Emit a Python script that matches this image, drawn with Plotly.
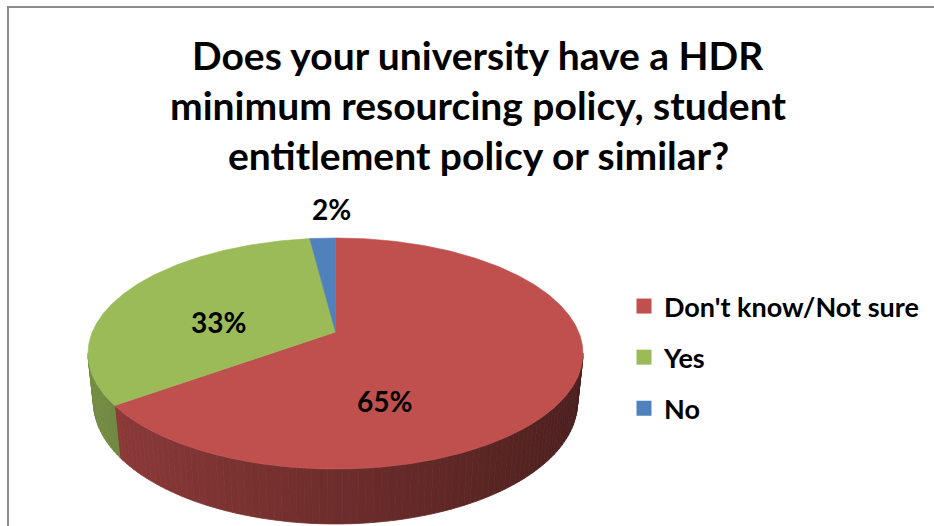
import numpy as np
import plotly.graph_objects as go

# ---- data -------------------------------------------------------------
categories = ["Don't know/Not sure", "Yes", "No"]
percents = [65, 33, 2]
slice_colors = ["#C0504D", "#9BBB59", "#4F81BD"]
title_lines = [
    "Does your university have a HDR",
    "minimum resourcing policy, student",
    "entitlement policy or similar?",
]

# ---- layout constants (page pixels) ----------------------------------
W, H = 934, 526
label_pos = [(384, 401), (218, 322), (331, 209)]   # percentage labels
title_y = [55, 105, 155]
title_x = 478

# perspective camera used to project the tilted 3-D disk onto the page
CX, CY = 335.5, 332.0      # projected centre of the top face
FOCAL = 1160.5
DIST = 4.772
ELEV = np.radians(27.3)
THICK = 0.226              # disk thickness relative to its radius
CA, SA = np.cos(ELEV), np.sin(ELEV)


def project(theta_deg, r=1.0, z=0.0):
    """Angle measured clockwise from the far edge (12 o'clock)."""
    t = np.radians(np.asarray(theta_deg, dtype=float))
    u = r * np.sin(t)
    v = -r * np.cos(t)
    depth = DIST - v * CA - z * SA
    x = CX + FOCAL * u / depth
    y = CY + FOCAL * (v * SA - z * CA) / depth
    return x, y


def hex_rgb(h):
    h = h.lstrip("#")
    return [int(h[i:i + 2], 16) for i in (0, 2, 4)]


def shade(h, f):
    r, g, b = (min(255, int(round(c * f))) for c in hex_rgb(h))
    return f"rgb({r},{g},{b})"


fig = go.Figure()

# slice angle ranges from the values
total = float(sum(percents))
bounds = np.concatenate([[0.0], np.cumsum(percents) / total * 360.0])

# side wall: only the part facing the camera is drawn
v_min = CA / DIST
th_a = np.degrees(np.arccos(-v_min))
th_b = 360.0 - th_a

for i, col in enumerate(slice_colors):
    lo = max(bounds[i], th_a)
    hi = min(bounds[i + 1], th_b)
    if hi <= lo:
        continue
    n = max(2, int(np.ceil((hi - lo) / 1.5)))
    edges = np.linspace(lo, hi, n + 1)
    for a, b in zip(edges[:-1], edges[1:]):
        xt, yt = project([a, b])
        xb, yb = project([b, a], z=-THICK)
        mid_u = np.sin(np.radians((a + b) / 2))
        c = shade(col, 0.57 - 0.19 * mid_u)
        fig.add_trace(go.Scatter(
            x=list(xt) + list(xb) + [xt[0]],
            y=list(yt) + list(yb) + [yt[0]],
            mode="lines", fill="toself", fillcolor=c,
            line=dict(color=c, width=0.8),
            hoverinfo="skip", showlegend=False,
        ))

# top face of each slice
for i, col in enumerate(slice_colors):
    arc = np.linspace(bounds[i], bounds[i + 1],
                      max(3, int((bounds[i + 1] - bounds[i]) * 2) + 1))
    xa, ya = project(arc)
    fig.add_trace(go.Scatter(
        x=[CX] + list(xa) + [CX],
        y=[CY] + list(ya) + [CY],
        mode="lines", fill="toself", fillcolor=col,
        line=dict(color=col, width=0.6),
        hoverinfo="skip", showlegend=False,
    ))

# legend entries
for cat, col in zip(categories, slice_colors):
    fig.add_trace(go.Scatter(
        x=[None], y=[None], mode="markers", name=cat, legendgroup=cat,
        marker=dict(symbol="square", size=15, color=col),
    ))

annotations = []
for p, (lx, ly) in zip(percents, label_pos):
    annotations.append(dict(
        x=lx, y=ly, xref="x", yref="y", text=f"{p}%", showarrow=False,
        font=dict(family="Lato", size=28, color="black", weight="bold"),
    ))
for line, ty in zip(title_lines, title_y):
    annotations.append(dict(
        x=title_x, y=ty, xref="x", yref="y", text=line, showarrow=False,
        font=dict(family="Lato", size=39, color="black", weight="bold"),
    ))

fig.update_layout(
    width=W, height=H,
    margin=dict(l=0, r=0, t=0, b=0),
    paper_bgcolor="white", plot_bgcolor="white",
    xaxis=dict(range=[0, W], visible=False, fixedrange=True),
    yaxis=dict(range=[H, 0], visible=False, fixedrange=True),
    showlegend=True,
    legend=dict(
        x=624 / W, y=1 - 282 / H, xanchor="left", yanchor="top",
        font=dict(family="Lato", size=27, color="black", weight="bold"),
        tracegroupgap=13, bgcolor="rgba(0,0,0,0)",
    ),
    annotations=annotations,
    shapes=[dict(
        type="rect", xref="x", yref="y", x0=8, y0=7, x1=W + 40, y1=H + 40,
        line=dict(color="#8c8c8c", width=2), layer="below",
    )],
)

fig.write_html("out.html")
